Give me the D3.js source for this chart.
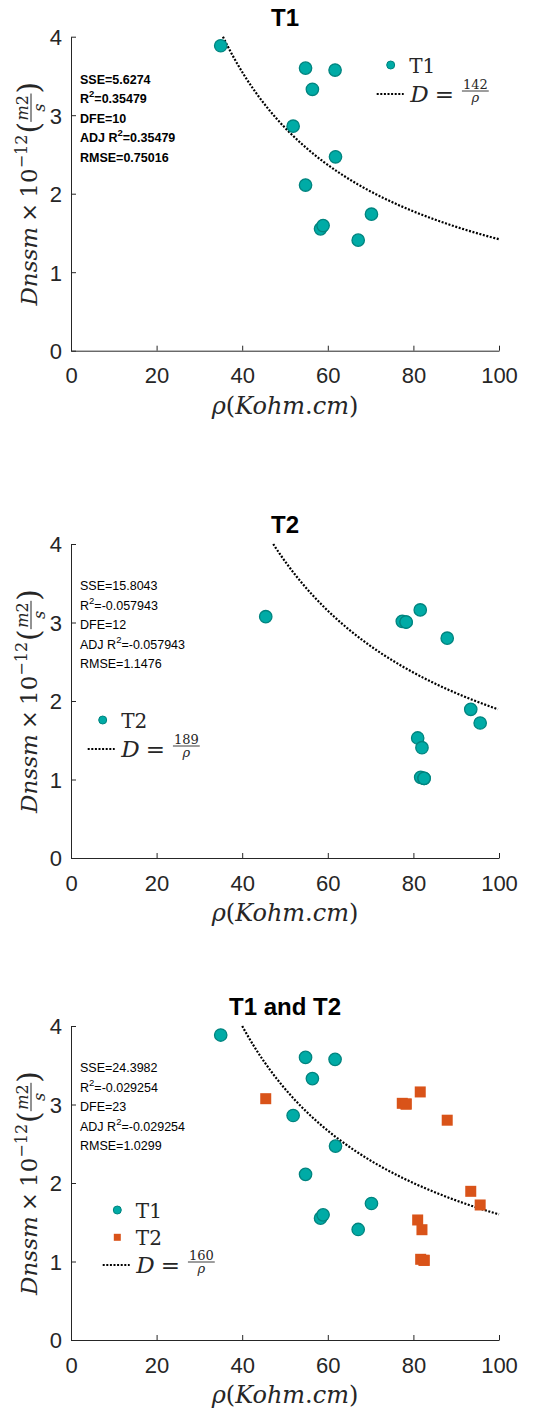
<!DOCTYPE html>
<html><head><meta charset="utf-8">
<script src="https://cdn.jsdelivr.net/npm/d3@7"></script>
<style>body{margin:0;background:#fff}</style>
</head><body><svg id="c" width="540" height="1412" xmlns="http://www.w3.org/2000/svg"></svg>
<script>
// ---------- data ----------
const t1Rho = [34.98, 54.8, 61.7, 56.4, 51.9, 61.8, 54.8, 58.3, 58.9, 70.2, 67.1];
const t1D   = [3.885, 3.60, 3.575, 3.33, 2.86, 2.47, 2.11, 1.552, 1.594, 1.739, 1.408];
const t2Rho = [45.5, 77.4, 78.3, 81.6, 87.9, 93.4, 95.6, 81.0, 82.0, 81.7, 82.5, 82.5, 78.3];
const t2D   = [3.074, 3.015, 3.006, 3.16, 2.80, 1.894, 1.72, 1.529, 1.405, 1.028, 1.015, 1.015, 3.006];
const xTicks = [0, 20, 40, 60, 80, 100];
const yTicks = [0, 1, 2, 3, 4];
const titles = ["T1", "T2", "T1 and T2"];
const fitK = [142, 189, 160];
const statsT1 = ["SSE=5.6274", "R^2=0.35479", "DFE=10", "ADJ R^2=0.35479", "RMSE=0.75016"];
const statsT2 = ["SSE=15.8043", "R^2=-0.057943", "DFE=12", "ADJ R^2=-0.057943", "RMSE=1.1476"];
const statsAll = ["SSE=24.3982", "R^2=-0.029254", "DFE=23", "ADJ R^2=-0.029254", "RMSE=1.0299"];

// ---------- style ----------
const TEAL = "#00ABA6", TEAL_EDGE = "#00847F", ORANGE = "#D95319", AX = "#262626";
const SERIF = "'DejaVu Serif', 'Liberation Serif', serif";
const SANS = "Arial, 'Liberation Sans', Helvetica, sans-serif";

const svg = d3.select("#c");
const x = d3.scaleLinear().domain([0, 100]).range([71, 499]);

const panels = [
  {top: 36.7, title: titles[0], k: fitK[0], stats: statsT1, bold: true, statY: 79,
   series: [{rho: t1Rho, d: t1D, shape: "circle"}],
   legend: {x: 390.7, y: 65, entries: [{shape: "circle", label: "T1"}], lineY: 94, lineX0: 376.7}},
  {top: 544, title: titles[1], k: fitK[1], stats: statsT2, bold: false, statY: 585.7,
   series: [{rho: t2Rho, d: t2D, shape: "circle"}],
   legend: {x: 102.7, y: 720, entries: [{shape: "circle", label: "T2"}], lineY: 749, lineX0: 87.7}},
  {top: 1026, title: titles[2], k: fitK[2], stats: statsAll, bold: false, statY: 1067.7,
   series: [{rho: t1Rho, d: t1D, shape: "circle"}, {rho: t2Rho, d: t2D, shape: "square"}],
   legend: {x: 117.3, y: 1210, entries: [{shape: "circle", label: "T1"}, {shape: "square", label: "T2"}], lineY: 1265, lineX0: 102.7}}
];

function textW(sel) { return sel.node().getComputedTextLength(); }

panels.forEach((p, pi) => {
  const y = d3.scaleLinear().domain([0, 4]).range([p.top + 314, p.top]);
  const g = svg.append("g");

  // axes
  const xa = g.append("g").attr("transform", `translate(0,${y(0)})`)
    .call(d3.axisBottom(x).tickValues(xTicks).tickSizeInner(-5).tickSizeOuter(0).tickPadding(10).tickFormat(d3.format("d")));
  xa.select(".domain").attr("stroke", AX).attr("stroke-width", 1);
  xa.selectAll(".tick line").attr("stroke", AX);
  xa.selectAll(".tick text").attr("fill", AX).attr("font-family", SANS).attr("font-size", 22).attr("y", 17).attr("dy", "0.71em");

  const ya = g.append("g").attr("transform", `translate(${x(0)},0)`)
    .call(d3.axisLeft(y).tickValues(yTicks).tickSizeInner(-5).tickSizeOuter(0).tickPadding(9).tickFormat(d3.format("d")));
  ya.select(".domain").attr("stroke", AX).attr("stroke-width", 1);
  ya.selectAll(".tick line").attr("stroke", AX);
  ya.selectAll(".tick text").attr("fill", AX).attr("font-family", SANS).attr("font-size", 22).attr("x", -9).attr("dy", "0.36em");

  // title
  g.append("text").attr("x", x(50)).attr("y", p.top - 10.7).attr("text-anchor", "middle")
    .attr("font-family", SANS).attr("font-weight", "bold").attr("font-size", 24).attr("fill", "#000").text(p.title);

  // x label
  const xl = g.append("text").attr("x", x(50)).attr("y", y(0) + 63).attr("text-anchor", "middle")
    .attr("font-family", SERIF).attr("font-size", 24).attr("fill", AX);
  xl.append("tspan").attr("font-style", "italic").text("ρ");
  xl.append("tspan").text("(");
  xl.append("tspan").attr("font-style", "italic").text("Kohm");
  xl.append("tspan").text(".");
  xl.append("tspan").attr("font-style", "italic").text("cm");
  xl.append("tspan").text(")");

  // y label (rotated)
  const cy = (y(0) + y(4)) / 2;
  const yl = g.append("g");
  let cx = 0;
  const add = (txt, opts) => {
    const t = yl.append("text").attr("x", cx).attr("y", opts.dy || 0)
      .attr("font-family", SERIF).attr("font-size", opts.size || 23).attr("fill", AX)
      .attr("font-style", opts.italic ? "italic" : "normal").text(txt);
    cx += textW(t) + (opts.gap || 0);
    return t;
  };
  add("Dnssm", {italic: true, gap: 5});
  add("×", {gap: 5});
  add("10", {});
  add("−12", {size: 16, dy: -10, gap: 1});
  add("(", {size: 30, dy: 2});
  const fx = cx;
  const num = yl.append("text").attr("x", fx).attr("y", -9).attr("font-family", SERIF).attr("font-size", 16).attr("fill", AX);
  num.append("tspan").attr("font-style", "italic").text("m");
  num.append("tspan").text("2");
  const nw = textW(num) + 3;
  num.attr("x", fx + 1.5);
  yl.append("text").attr("x", fx + nw / 2).attr("y", 8).attr("text-anchor", "middle")
    .attr("font-family", SERIF).attr("font-size", 16).attr("font-style", "italic").attr("fill", AX).text("s");
  yl.append("line").attr("x1", fx).attr("x2", fx + nw).attr("y1", -6).attr("y2", -6).attr("stroke", AX).attr("stroke-width", 1);
  cx += nw;
  add(")", {size: 30, dy: 2});
  const total = cx;
  yl.attr("transform", `translate(37,${cy}) rotate(-90) translate(${-total / 2},0)`);

  // stats
  p.stats.forEach((s, i) => {
    const t = g.append("text").attr("x", 80).attr("y", p.statY + 4.5 + i * 19.5)
      .attr("font-family", SANS).attr("font-size", 12.5).attr("fill", "#000")
      .attr("font-weight", p.bold ? "bold" : "normal");
    const parts = s.split("^2");
    t.append("tspan").text(parts[0]);
    if (parts.length > 1) {
      t.append("tspan").attr("font-size", 9.5).attr("dy", -6).text("2");
      t.append("tspan").attr("dy", 6).text(parts[1]);
    }
  });

  // fit curve D = k / rho
  const k = p.k;
  const rhoSamples = d3.range(k / 4, 100.001, 0.5);
  g.append("path").datum(rhoSamples)
    .attr("d", d3.line().x(r => x(r)).y(r => y(k / r)))
    .attr("fill", "none").attr("stroke", "#000").attr("stroke-width", 2.2).attr("stroke-dasharray", "2,1.6");

  // data
  p.series.forEach(s => {
    const pts = s.rho.map((r, i) => [r, s.d[i]]);
    if (s.shape === "circle") {
      g.append("g").selectAll("circle").data(pts).join("circle")
        .attr("cx", d => x(d[0])).attr("cy", d => y(d[1])).attr("r", 6.2)
        .attr("fill", TEAL).attr("stroke", TEAL_EDGE).attr("stroke-width", 1.3);
    } else {
      g.append("g").selectAll("rect").data(pts).join("rect")
        .attr("x", d => x(d[0]) - 5.5).attr("y", d => y(d[1]) - 5.5).attr("width", 11).attr("height", 11)
        .attr("fill", ORANGE);
    }
  });

  // legend
  const L = p.legend;
  L.entries.forEach((e, i) => {
    const ey = L.y + i * 27.3;
    if (e.shape === "circle") {
      g.append("circle").attr("cx", L.x).attr("cy", ey).attr("r", 4).attr("fill", TEAL).attr("stroke", TEAL_EDGE).attr("stroke-width", 1);
    } else {
      g.append("rect").attr("x", L.x - 3.5).attr("y", ey - 3.5).attr("width", 7).attr("height", 7).attr("fill", ORANGE);
    }
    g.append("text").attr("x", L.x + 18.5).attr("y", ey + 7.5).attr("font-family", SERIF).attr("font-size", 20).attr("fill", AX).text(e.label);
  });
  g.append("line").attr("x1", L.lineX0).attr("x2", L.lineX0 + 27).attr("y1", L.lineY).attr("y2", L.lineY)
    .attr("stroke", "#000").attr("stroke-width", 2.2).attr("stroke-dasharray", "2,1.6");
  let lx = L.lineX0 + 33.5;
  const dT = g.append("text").attr("x", lx).attr("y", L.lineY + 8).attr("font-family", SERIF).attr("font-size", 23)
    .attr("font-style", "italic").attr("fill", AX).text("D");
  lx += textW(dT) + 6;
  const eq = g.append("text").attr("x", lx).attr("y", L.lineY + 8).attr("font-family", SERIF).attr("font-size", 23).attr("fill", AX).text("=");
  lx += textW(eq) + 8;
  const nT = g.append("text").attr("x", lx).attr("y", L.lineY - 5).attr("font-family", SERIF).attr("font-size", 13).attr("fill", AX).text(String(k));
  const fw = textW(nT) + 2;
  nT.attr("x", lx + 1);
  g.append("line").attr("x1", lx).attr("x2", lx + fw).attr("y1", L.lineY - 3).attr("y2", L.lineY - 3).attr("stroke", AX).attr("stroke-width", 0.9);
  g.append("text").attr("x", lx + fw / 2).attr("y", L.lineY + 8).attr("text-anchor", "middle").attr("font-family", SERIF)
    .attr("font-size", 13).attr("font-style", "italic").attr("fill", AX).text("ρ");
});
</script>
</body></html>
